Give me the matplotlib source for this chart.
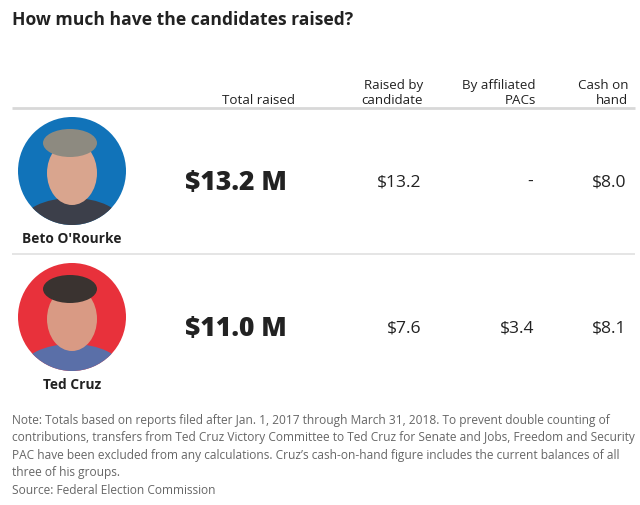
import matplotlib
matplotlib.use("Agg")
import matplotlib.pyplot as plt
from matplotlib.patches import Circle, Ellipse

candidates = ["Beto O'Rourke", "Ted Cruz"]
total_raised = [13.2, 11.0]
raised_by_candidate = [13.2, 7.6]
affiliated_pacs = [None, 3.4]
cash_on_hand = [8.0, 8.1]
circle_colors = ["#1173b9", "#e8313b"]
headers = ["Total raised", "Raised by\ncandidate", "By affiliated\nPACs", "Cash on\nhand"]
title = "How much have the candidates raised?"
note = ("Note: Totals based on reports filed after Jan. 1, 2017 through March 31, 2018. To prevent double counting of\n"
        "contributions, transfers from Ted Cruz Victory Committee to Ted Cruz for Senate and Jobs, Freedom and Security\n"
        "PAC have been excluded from any calculations. Cruz\u2019s cash-on-hand figure includes the current balances of all\n"
        "three of his groups.\n"
        "Source: Federal Election Commission")

FONT = "Open Sans"
TXT = "#222222"

fig = plt.figure(figsize=(6.4, 5.06), dpi=100)
ax = fig.add_axes([0, 0, 1, 1])
ax.set_xlim(0, 640)
ax.set_ylim(506, 0)
ax.axis("off")

ax.text(12, 20, title, fontsize=12.6, fontweight="bold", family=FONT, color=TXT, va="center", ha="left")

header_x = [295, 423, 536, 628]
for hx, h in zip(header_x, headers):
    ax.text(hx, 104, h, fontsize=9.6, family=FONT, color=TXT, ha="right", va="baseline", linespacing=1.25)

ax.plot([12, 635], [109, 109], color="#d8d8d8", lw=2, solid_capstyle="butt")
ax.plot([12, 635], [255, 255], color="#e0e0e0", lw=1.2, solid_capstyle="butt")

row_y = [172, 318]
for i, name in enumerate(candidates):
    cy = row_y[i]
    circ = Circle((72, cy), 54, facecolor=circle_colors[i], edgecolor="none", zorder=2)
    ax.add_patch(circ)
    # simple portrait silhouette
    shoulders = Ellipse((72, cy + 52), 100, 50, facecolor="#3c3f4a" if i == 0 else "#5a6fa8",
                        edgecolor="none", zorder=3)
    shoulders.set_clip_path(circ)
    ax.add_patch(shoulders)
    face = Ellipse((72, cy + 2), 50, 64, facecolor="#d9a58e" if i == 0 else "#d99a84",
                   edgecolor="none", zorder=4)
    face.set_clip_path(circ)
    ax.add_patch(face)
    hair = Ellipse((70, cy - 28), 54, 28, facecolor="#8d8a80" if i == 0 else "#3a3330",
                   edgecolor="none", zorder=5)
    hair.set_clip_path(circ)
    ax.add_patch(hair)

    ax.text(72, cy + 67, name, fontsize=9.9, fontweight="bold", family=FONT, color=TXT,
            ha="center", va="center")
    ax.text(287, cy + 11, f"${total_raised[i]:.1f} M", fontsize=19.1, fontweight="heavy",
            family=FONT, color=TXT, ha="right", va="center")
    vals = [raised_by_candidate[i], affiliated_pacs[i], cash_on_hand[i]]
    for vx, v in zip(header_x[1:], vals):
        s = "-" if v is None else f"${v:.1f}"
        xx = vx - 3 if v is None else vx - 2
        ax.text(xx, cy + 10, s, fontsize=12.6, family=FONT, color=TXT, ha="right", va="center")

ax.text(12, 414, note, fontsize=8.55, family=FONT, color="#666666", ha="left", va="top", linespacing=1.45)

fig.savefig("out.png", dpi=100)
